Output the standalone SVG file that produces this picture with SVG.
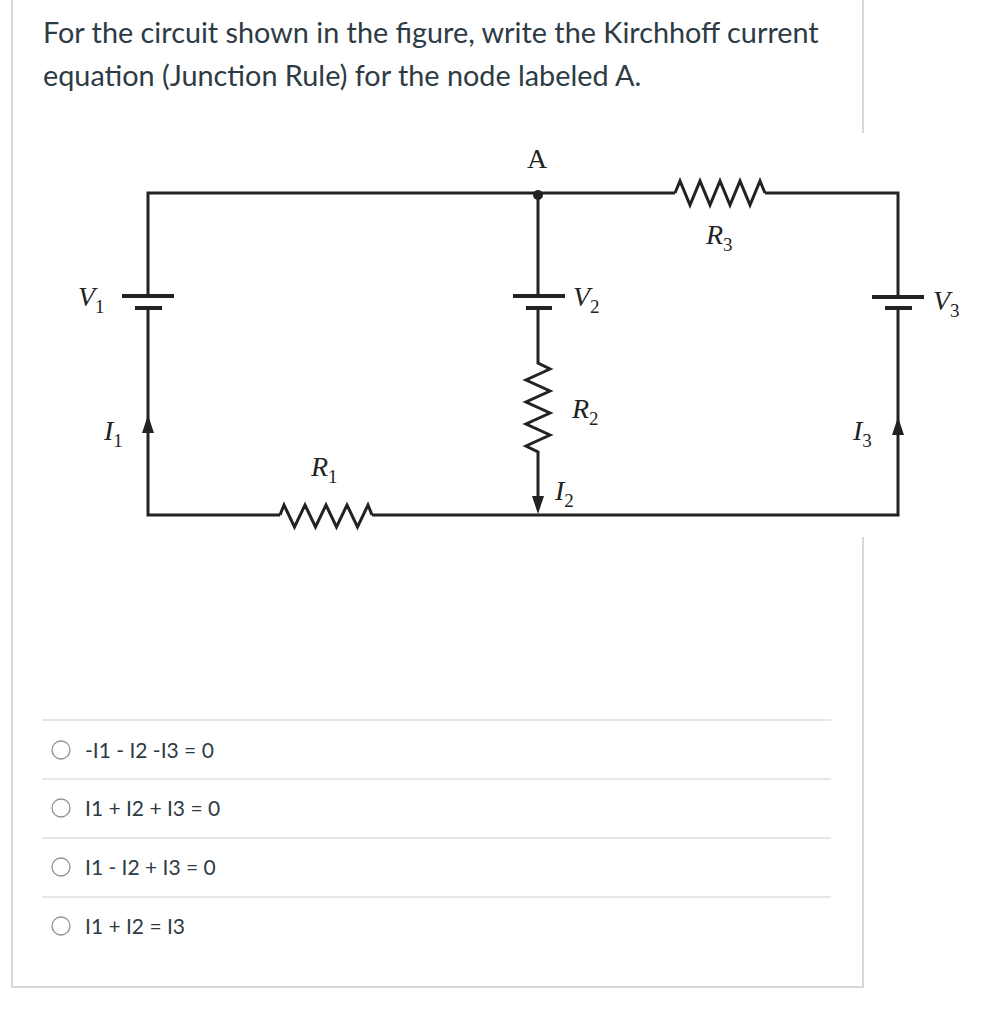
<svg xmlns="http://www.w3.org/2000/svg" width="988" height="1024" viewBox="0 0 988 1024">
<style>
.q{font-family:Lato,"Liberation Sans",sans-serif;font-size:28.8px;fill:#2d3b45}
.o{font-family:Lato,"Liberation Sans",sans-serif;font-size:21px;fill:#2d3b45}
.m{font-family:"Liberation Serif",serif;font-style:italic;font-size:28px;fill:#222}
.s{font-size:19px;font-style:normal}
.w{fill:none;stroke:#222;stroke-width:3;stroke-linejoin:miter}
.fr{stroke:#c7cdd1;stroke-width:1.5;fill:none}
.sep{stroke:#dde1e3;stroke-width:1.5}
.rb{fill:#fff;stroke:#8a9299;stroke-width:1.3}
</style>
<rect width="988" height="1024" fill="#fff"/>
<g id="frame">
<path class="fr" d="M12 0V987H863V537M863 133V0"/>
</g>
<g id="question">
<text class="q" x="43" y="43">For the circuit shown in the figure, write the Kirchhoff current</text>
<text class="q" x="43" y="86">equation (Junction Rule) for the node labeled A.</text>
</g>
<g id="connectors">
<path class="w" d="M148 296V193H675M765 193H898V297M898 308V515H372M280 515H148V308"/>
<path class="w" d="M675 193l5-12 10 24 10-24 10 24 10-24 10 24 10-24 10 24 10-24 5 12"/>
<path class="w" d="M280 515l4-10 10.5 22 10.5-22 10.5 22 10.5-22 10.5 22 10.5-22 10.5 22 10.5-22 4 10"/>
<path class="w" d="M538 193V296M538 308V363l12 6-24 11 24 11-24 11 24 11-24 11 24 11-24 11 12 6V505"/>
<g fill="#222">
<path d="M538 514l-6-18h12z"/>
<path d="M148 415l-6 18h12z"/>
<path d="M898 417l-6 18h12z"/>
<circle cx="538" cy="195" r="5"/>
</g>
<g stroke="#222" stroke-width="4">
<path d="M122 296H174M135 308H162"/>
<path d="M513 296H565M526 308H552"/>
<path d="M872 297H924M885 308H912"/>
</g>
</g>
<g id="labels">
<text class="m" x="527" y="168" style="font-style:normal">A</text>
<text class="m" x="78" y="306">V<tspan class="s" dy="7">1</tspan></text>
<text class="m" x="573" y="306">V<tspan class="s" dy="7">2</tspan></text>
<text class="m" x="933" y="310">V<tspan class="s" dy="7">3</tspan></text>
<text class="m" x="104" y="440">I<tspan class="s" dy="7">1</tspan></text>
<text class="m" x="853" y="440">I<tspan class="s" dy="7">3</tspan></text>
<text class="m" x="555" y="500">I<tspan class="s" dy="7">2</tspan></text>
<text class="m" x="572" y="418">R<tspan class="s" dy="7">2</tspan></text>
<text class="m" x="311" y="476">R<tspan class="s" dy="7">1</tspan></text>
<text class="m" x="706" y="244">R<tspan class="s" dy="7">3</tspan></text>
</g>
<g id="options">
<line class="sep" x1="42" y1="720" x2="831" y2="720"/>
<line class="sep" x1="42" y1="779" x2="831" y2="779"/>
<line class="sep" x1="42" y1="838" x2="831" y2="838"/>
<line class="sep" x1="42" y1="897" x2="831" y2="897"/>
<circle class="rb" cx="61" cy="750" r="9"/>
<circle class="rb" cx="61" cy="808" r="9"/>
<circle class="rb" cx="61" cy="867" r="9"/>
<circle class="rb" cx="61" cy="926" r="9"/>
<text class="o" x="85" y="758">-I1 - I2 -I3 = 0</text>
<text class="o" x="85" y="816">I1 + I2 + I3 = 0</text>
<text class="o" x="85" y="875">I1 - I2 + I3 = 0</text>
<text class="o" x="85" y="934">I1 + I2 = I3</text>
</g>
</svg>
